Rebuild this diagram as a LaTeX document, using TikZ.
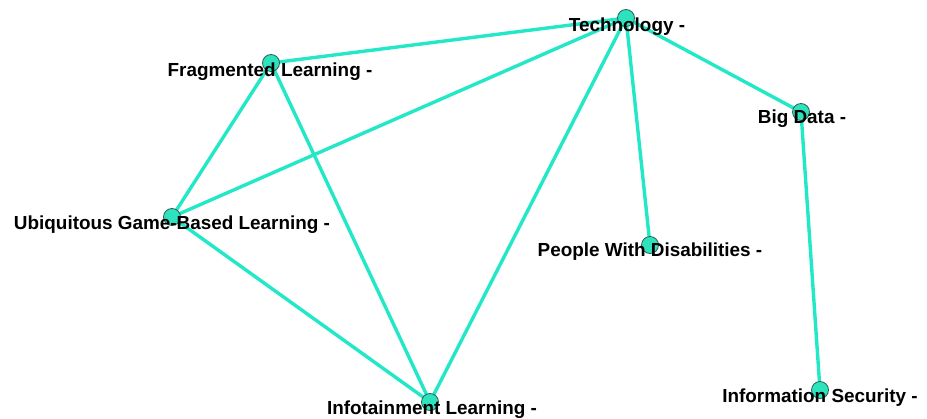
\documentclass[tikz,border=0pt]{standalone}
\usepackage{fontspec}
\setmainfont{Liberation Sans}
\usepackage{xcolor}
\usetikzlibrary{backgrounds}
\definecolor{edgeteal}{HTML}{22E8C8}
\definecolor{dotteal}{HTML}{2DE3BE}
\definecolor{dotrim}{HTML}{2F5F55}

\begin{document}
\begin{tikzpicture}[
    x=1pt, y=-1pt,
    dot/.style={circle, draw=dotrim, line width=0.8pt, fill=dotteal, minimum size=17pt, inner sep=0pt},
    link/.style={draw=edgeteal, line width=3.4pt},
    term/.style={font=\fontsize{18.9}{22}\selectfont\bfseries, text=black, inner sep=0pt},
]
\useasboundingbox (0,0) rectangle (927,418);

% keywords
\node[dot] (tech) at (626,18) {};
\node[dot] (frag) at (271,63) {};
\node[dot] (ubiq) at (172,217) {};
\node[dot] (people) at (650,245) {};
\node[dot] (infot) at (430,402) {};
\node[dot] (bigdata) at (801,112) {};
\node[dot] (infosec) at (820,390) {};

% co-occurrence links
\begin{pgfonlayer}{background}
\draw[link] (tech.center) -- (frag.center);
\draw[link] (tech.center) -- (ubiq.center);
\draw[link] (tech.center) -- (infot.center);
\draw[link] (tech.center) -- (people.center);
\draw[link] (tech.center) -- (bigdata.center);
\draw[link] (frag.center) -- (ubiq.center);
\draw[link] (frag.center) -- (infot.center);
\draw[link] (ubiq.center) -- (infot.center);
\draw[link] (bigdata.center) -- (infosec.center);
\end{pgfonlayer}

% labels
\node[term] (techlbl) at (627,27) {Technology -};
\node[term] (fraglbl) at (270,72) {Fragmented Learning -};
\node[term] (ubiqlbl) at (172,225) {Ubiquitous Game-Based Learning -};
\node[term] (peoplelbl) at (650,252) {People With Disabilities -};
\node[term] (infotlbl) at (432,410) {Infotainment Learning -};
\node[term] (bigdatalbl) at (802,119) {Big Data -};
\node[term] (infoseclbl) at (820,398) {Information Security -};

\end{tikzpicture}
\end{document}
